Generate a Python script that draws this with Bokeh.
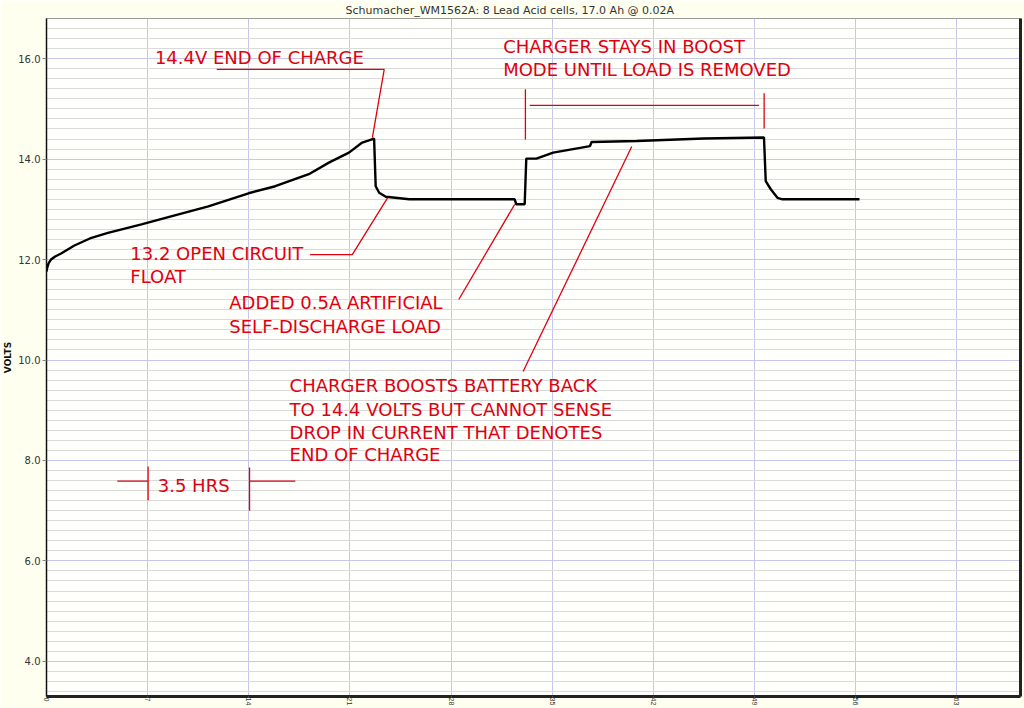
from bokeh.plotting import figure
from bokeh.models import (ColumnDataSource, FixedTicker, PrintfTickFormatter,
                          LinearAxis, Range1d, Title)
from bokeh.core.properties import value
from bokeh.embed import file_html
from bokeh.resources import INLINE

# ---- data (x in half-hour units: one tick = 7 units = 3.5 hrs) ----
time_units = [0.0, 0.05, 0.15, 0.31, 0.60, 1.01, 1.93, 3.0, 4.25, 6.57, 8.88,
              11.20, 13.98, 15.83, 18.15, 19.54, 20.93, 21.85, 22.67, 22.78,
              23.02, 23.48, 25.10, 32.40, 32.51, 33.09, 33.20, 33.90, 35.06,
              37.61, 37.72, 40.85, 45.48, 49.65, 49.77, 50.12, 50.58, 50.93,
              56.26]
volts = [11.76, 11.84, 11.93, 12.00, 12.06, 12.12, 12.28, 12.42, 12.53, 12.70,
         12.88, 13.06, 13.32, 13.46, 13.70, 13.93, 14.13, 14.33, 14.41, 13.46,
         13.33, 13.25, 13.20, 13.20, 13.10, 13.10, 14.01, 14.01, 14.13, 14.26,
         14.34, 14.36, 14.41, 14.43, 13.56, 13.40, 13.23, 13.20, 13.20]

x_ticks = [0, 7, 14, 21, 28, 35, 42, 49, 56, 63]
y_ticks = [4, 6, 8, 10, 12, 14, 16]
y_minor = [round(3.4 + 0.2 * i, 1) for i in range(68)]
y_minor = [v for v in y_minor if abs(v / 2 - round(v / 2)) > 1e-6]

title_text = "Schumacher_WM1562A: 8 Lead Acid cells, 17.0 Ah @ 0.02A"

# annotation texts (left x, baseline y in data units)
note_text = ["14.4V END OF CHARGE",
             "CHARGER STAYS IN BOOST", "MODE UNTIL LOAD IS REMOVED",
             "13.2 OPEN CIRCUIT", "FLOAT",
             "ADDED 0.5A ARTIFICIAL", "SELF-DISCHARGE LOAD",
             "CHARGER BOOSTS BATTERY BACK", "TO 14.4 VOLTS BUT CANNOT SENSE",
             "DROP IN CURRENT THAT DENOTES", "END OF CHARGE",
             "3.5 HRS"]
note_x = [7.50, 31.60, 31.60, 5.80, 5.80, 12.65, 12.65, 16.82, 16.82, 16.82, 16.82, 7.70]
note_y = [16.02, 16.24, 15.79, 12.12, 11.67, 11.14, 10.67, 9.49, 9.01, 8.56, 8.12, 7.51]

# leader / bracket lines
lead_xs = [[11.78, 23.37, 22.55],
           [33.14, 33.14], [33.44, 49.31], [49.66, 49.66],
           [18.24, 21.16, 23.60],
           [28.53, 32.40],
           [32.98, 40.50],
           [4.90, 7.03], [7.03, 7.03], [14.05, 14.05], [14.05, 17.22]]
lead_ys = [[15.787, 15.787, 14.43],
           [15.39, 14.39], [15.07, 15.07], [15.31, 14.61],
           [12.10, 12.10, 13.23],
           [11.205, 13.10],
           [9.77, 14.25],
           [7.59, 7.59], [7.88, 7.21], [7.86, 7.00], [7.59, 7.59]]

RED = "#E00010"

p = figure(width=1024, height=708, output_backend="svg", toolbar_location=None,
           x_range=Range1d(0, 67.4), y_range=Range1d(3.30, 16.80),
           min_border_left=46, min_border_right=4, min_border_top=0,
           min_border_bottom=0)
p.border_fill_color = "#FFFFEF"
p.background_fill_color = "#FFFFFC"
p.outline_line_color = "#999999"
p.outline_line_width = 1

p.add_layout(Title(text=title_text, text_font="DejaVu Sans",
                   text_font_size="11px", text_font_style="normal",
                   text_color="#333333", align="left", offset=299,
                   standoff=3), "above")

# axes
xa = p.xaxis[0]
xa.ticker = FixedTicker(ticks=x_ticks)
xa.major_label_orientation = "vertical"
xa.major_label_text_font_size = "7px"
xa.major_label_text_color = "#333333"
xa.major_label_standoff = 0
xa.major_tick_out = 1
xa.major_tick_in = 0
xa.major_tick_line_color = "#666666"
xa.minor_tick_line_color = None
xa.axis_line_width = 3
xa.axis_line_color = "#222222"

ya = p.yaxis[0]
ya.ticker = FixedTicker(ticks=y_ticks, minor_ticks=y_minor)
ya.formatter = PrintfTickFormatter(format="%.1f")
ya.major_label_text_font_size = "10px"
ya.major_label_text_font = "DejaVu Sans"
ya.major_label_text_color = "#333333"
ya.major_label_standoff = 2
ya.major_tick_out = 4
ya.major_tick_in = 0
ya.major_tick_line_color = "#888888"
ya.minor_tick_line_color = None
ya.axis_line_color = "#111111"
ya.axis_line_width = 1.5
ya.axis_label = "VOLTS"
ya.axis_label_text_font_size = "9px"
ya.axis_label_text_font_style = "bold"
ya.axis_label_text_font = "DejaVu Sans"
ya.axis_label_text_color = "#111111"
ya.axis_label_standoff = 2

ra = LinearAxis(ticker=FixedTicker(ticks=[]), major_tick_line_color=None,
                minor_tick_line_color=None, axis_line_width=3,
                axis_line_color="#222222", major_label_standoff=0)
p.add_layout(ra, "right")

# grids
p.xgrid.grid_line_color = "#C6C6EA"
p.ygrid.grid_line_color = "#C6C6EA"
p.ygrid.minor_grid_line_color = "#DADADA"

# data line
src = ColumnDataSource(dict(t=time_units, v=volts))
p.line("t", "v", source=src, line_color="black", line_width=2.4)

# annotations
p.multi_line(lead_xs, lead_ys, line_color=RED, line_width=1.3)
nsrc = ColumnDataSource(dict(x=note_x, y=note_y, t=note_text))
p.text("x", "y", text="t", source=nsrc, text_color=RED,
       text_font=value("DejaVu Sans"), text_font_size="18px",
       text_align="left", text_baseline="alphabetic")

open("out.html", "w").write(file_html(p, INLINE))
